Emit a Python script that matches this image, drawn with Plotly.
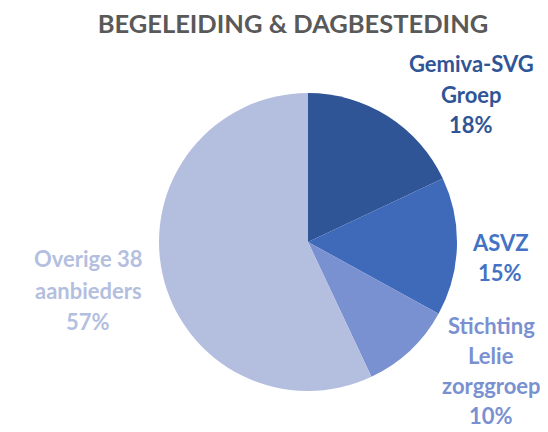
import plotly.graph_objects as go

labels = ["Gemiva-SVG Groep", "ASVZ", "Stichting Lelie zorggroep", "Overige 38 aanbieders"]
label_lines = [["Gemiva-SVG", "Groep"], ["ASVZ"], ["Stichting", "Lelie", "zorggroep"], ["Overige 38", "aanbieders"]]
values = [18, 15, 10, 57]
colors = ["#2F5597", "#3F69B9", "#7A91D1", "#B4BFE0"]
text_colors = ["#2F5597", "#4472C4", "#7A91D1", "#B4BFE0"]

# page body has 8px margin: figure occupies screen area from (8,8)
OFF = 8
W, H = 548 - OFF, 432 - OFF
cx, cy, r = 308 - OFF, 242 - OFF, 149

fig = go.Figure(go.Pie(
    labels=labels, values=values, sort=False, direction="clockwise", rotation=0,
    marker=dict(colors=colors, line=dict(width=0)),
    textinfo="none", hoverinfo="label+percent", showlegend=False,
    domain=dict(x=[(cx - r) / W, (cx + r) / W], y=[1 - (cy + r) / H, 1 - (cy - r) / H]),
))

# label block: center x, first line y (screen pixels), line spacing
label_pos = [(471, 63, 31), (500, 242, 30), (491, 325, 30), (88, 259, 31)]
total = sum(values)
ann = []
for (x, y0, ls), lines, v, c in zip(label_pos, label_lines, values, text_colors):
    all_lines = lines + [f"{round(v / total * 100)}%"]
    for i, ln in enumerate(all_lines):
        ann.append(dict(
            x=(x - OFF) / W, y=1 - (y0 + i * ls - OFF) / H, xref="paper", yref="paper",
            text=f"<b>{ln}</b>",
            showarrow=False, xanchor="center", yanchor="middle", align="center",
            font=dict(family="Lato", size=22, color=c),
        ))

fig.update_layout(
    width=W, height=H, margin=dict(l=0, r=0, t=0, b=0),
    paper_bgcolor="white", plot_bgcolor="white",
    title=dict(text="<b>BEGELEIDING &amp; DAGBESTEDING</b>", x=(293 - OFF) / W, xanchor="center",
               y=1 - (24 - OFF) / H, yanchor="middle",
               font=dict(family="Lato", size=25.5, color="#595959")),
    annotations=ann,
)
fig.write_html("out.html")
